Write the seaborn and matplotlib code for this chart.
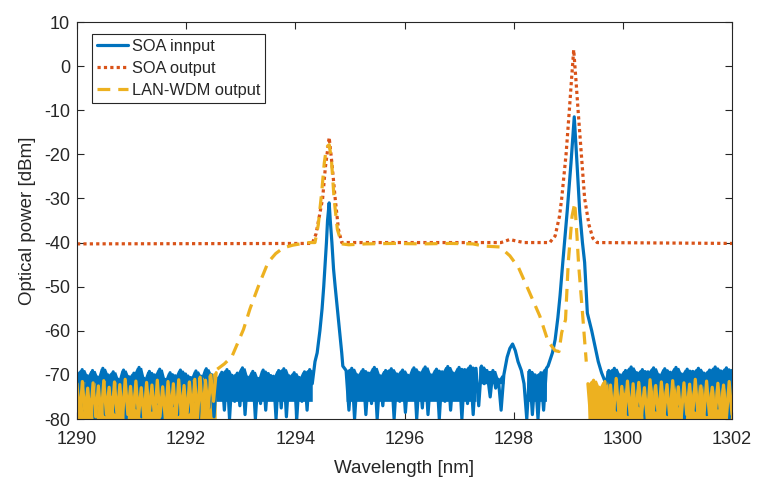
import numpy as np
import pandas as pd
import matplotlib
matplotlib.use('Agg')
import matplotlib.pyplot as plt
import seaborn as sns

# ---- data (wavelength in nm, power in dBm) ----
# SOA input (blue)
blue_noise_a = [-69.5, -76, -68.8, -78, -70.2, -75, -69, -80, -70.5, -77,
                -68.5, -79, -70, -74.5, -69.3, -78.5, -71, -76, -68.9, -80,
                -70.4, -75.5, -69.6, -77.5, -68.3, -79.5, -70.8, -74, -69.2, -78,
                -70, -76.5, -68.7, -80, -71, -75, -69.5, -77, -70.2, -79,
                -68.9, -74.5, -69.8, -78.5, -70.6, -76, -69.1, -80, -70.3, -75.5,
                -68.6, -77.5, -69.9, -79.5, -70.7, -74, -69.4, -78, -68.8, -80,
                -70.1, -76, -69.6, -77, -68.4, -79, -70.5, -75, -69.2, -80,
                -70.8, -76.5, -68.9, -78, -69.7, -74.5, -70.3, -80, -69, -77.5,
                -68.6, -79.5, -70.2, -75.5, -69.5, -80, -70.6, -76, -69.3, -78,
                -68.8, -72]
blue_peak1_wl = [1294.36, 1294.40, 1294.45, 1294.49, 1294.52, 1294.55, 1294.57, 1294.59,
                 1294.62, 1294.64, 1294.67, 1294.70, 1294.73, 1294.77, 1294.81, 1294.85, 1294.87]
blue_peak1 = [-67, -65, -60, -55, -50, -44, -40, -35, -31, -35, -40, -46, -50, -55, -60, -65, -68]
blue_noise_b = [-69, -78, -68.5, -80, -70, -75, -68.8, -79, -69.6, -76.5,
                -68.3, -80, -70.2, -77, -69, -74.5, -68.6, -80, -69.8, -76,
                -68.9, -78.5, -70.1, -75, -68.4, -80, -69.5, -77.5, -68.2, -79,
                -70, -75.5, -68.7, -80, -69.3, -76, -68.1, -78, -69.6, -74,
                -68.3, -80, -68.8, -76.5, -68, -79, -68.5]
blue_bump_wl = [1297.36, 1297.41, 1297.46, 1297.51, 1297.57, 1297.62, 1297.67, 1297.72, 1297.77,
                1297.82, 1297.88, 1297.93, 1297.98, 1298.03, 1298.08, 1298.14, 1298.19]
blue_bump = [-77, -68, -72, -69, -75, -69, -73, -71, -78, -70, -66, -64, -63, -64.5, -67, -69, -72]
blue_noise_d = [-80, -69, -79, -70, -80, -69.5, -78, -68.5]
blue_peak2_wl = [1298.63, 1298.71, 1298.76, 1298.81, 1298.85, 1298.90, 1298.98, 1299.05, 1299.11,
                 1299.16, 1299.21, 1299.26, 1299.30, 1299.35, 1299.43, 1299.49, 1299.55, 1299.61]
blue_peak2 = [-68, -65, -62, -57, -52, -44.5, -33, -22, -11.5, -22, -33, -40, -44.5, -56, -60,
              -63.5, -67, -69.5]
blue_noise_e = [-72, -69, -76, -68.5, -78, -70, -74, -69, -79, -68.2,
                -75, -69.5, -77, -68.8, -80, -69.3, -73.5, -68.4, -78, -70,
                -75, -68.6, -79, -69.4, -74, -68.3, -77, -69.8, -80, -68.7,
                -75.5, -69.2, -78, -68.5, -73, -69.6, -79, -68.9, -76, -68.2,
                -77.5, -69.1, -74.5, -68.4, -80, -69]

# SOA output (red)
red_wl = [1290, 1294.31, 1294.38, 1294.44, 1294.50, 1294.55, 1294.62, 1294.67, 1294.73, 1294.79,
          1294.85, 1295.80, 1297.77, 1297.93, 1298.03, 1298.19, 1298.66, 1298.76, 1298.84,
          1298.88, 1298.96, 1299.02, 1299.06, 1299.10, 1299.14, 1299.18, 1299.24, 1299.30,
          1299.38, 1299.45, 1299.53, 1302]
red_pw = [-40.3, -40.2, -38, -34, -30, -23, -16.2, -22, -30, -37, -40, -40, -40, -39.3, -39.6,
          -40, -40, -38.5, -34, -30, -20, -10, -3, 3.7, -3, -10, -20, -30, -36, -39, -40, -40.2]

# LAN-WDM output (yellow)
yel_noise_f = [-72, -80, -71.5, -79, -73, -80, -71.8, -79.5, -72.5, -80,
               -71.3, -79, -72.8, -80, -71.6, -79.5, -72.2, -80, -71, -79,
               -72.6, -80, -71.4, -79.5, -72.9, -80, -71.7, -79, -72.3, -80,
               -71.2, -79.5, -72.7, -80, -71.5, -79, -72, -80, -71.1, -79.5,
               -72.4, -80, -71.6, -79, -71, -80, -70.5, -79, -71.2, -78,
               -70, -76, -69.5]
yel_mid_wl = [1292.57, 1292.70, 1292.84, 1293.05, 1293.17, 1293.32, 1293.50, 1293.64, 1293.78,
              1293.95, 1294.09, 1294.26, 1294.36, 1294.42, 1294.48, 1294.53, 1294.57, 1294.62,
              1294.66, 1294.71, 1294.77, 1294.85, 1294.98, 1295.29, 1295.81, 1296.32, 1296.84,
              1297.25, 1297.46, 1297.75, 1297.93, 1298.09, 1298.29, 1298.48, 1298.63, 1298.76,
              1298.83, 1298.88, 1298.95, 1299.00, 1299.07, 1299.12, 1299.16, 1299.19, 1299.26,
              1299.33]
yel_mid = [-68.7, -67.5, -65.8, -59.7, -55, -50, -44.5, -42.5, -41.2,
           -40.6, -40.3, -40, -40, -36, -29, -22, -18.5, -17.8,
           -21, -30, -37, -40.3, -40.5, -40.3, -40.2, -40.3, -40.2,
           -40.3, -40.8, -41, -43, -45.7, -51.3, -56.7, -62.4, -64.5,
           -64.7, -60.4, -57.5, -44.5, -34, -31, -38.6, -45, -55.8,
           -67]
yel_noise_g = [-72, -80, -71.2, -79, -72.8, -80, -71.5, -79.5, -72.3, -80,
               -70.8, -79, -72.6, -80, -71.4, -79.5, -72, -80, -71.7, -79,
               -72.9, -80, -71.1, -79.5, -72.4, -80, -71.6, -79, -72.2, -80,
               -71.3, -79.5, -72.7, -80, -71.8, -79, -72.1, -80, -71, -79.5,
               -72.5, -80, -71.4, -79, -72.8, -80, -71.9, -79.5, -72.3, -80,
               -71.5, -79]

x_ticks = [1290, 1292, 1294, 1296, 1298, 1300, 1302]
y_ticks = [-80, -70, -60, -50, -40, -30, -20, -10, 0, 10]

BLUE, RED, YELLOW = '#0072BD', '#D95319', '#EDB120'

# noise stretches sampled on the analyser grid: (values, start nm, end nm, floor of solid band)
blue_noise = [(blue_noise_a, 1290.0, 1294.31, -76), (blue_noise_b, 1294.93, 1297.31, -76),
              (blue_noise_d, 1298.24, 1298.60, -76), (blue_noise_e, 1299.69, 1302.0, -80)]
yel_noise = [(yel_noise_f, 1290.0, 1292.55, -80), (yel_noise_g, 1299.36, 1302.0, -80)]


def noise_xy(vals, start, stop):
    return np.linspace(start, stop, len(vals)), np.asarray(vals, dtype=float)


def draw_band(ax, x, y, floor, color):
    # the analyser trace is so dense it reads as a solid band under its peaks
    top = pd.Series(np.asarray(y, dtype=float)).rolling(3, center=True, min_periods=1).max().values
    ax.fill_between(x, top, floor, color=color, lw=0)


sns.set_theme(style='ticks')
plt.rcParams['font.family'] = ['Liberation Sans', 'DejaVu Sans']
plt.rcParams['axes.unicode_minus'] = False
plt.rcParams['xtick.direction'] = 'in'
plt.rcParams['ytick.direction'] = 'in'
plt.rcParams['xtick.top'] = True
plt.rcParams['ytick.right'] = True

fig = plt.figure(figsize=(7.57, 4.82), dpi=100)
ax = fig.add_axes([77 / 757, 63 / 482, 655 / 757, 397 / 482])

# SOA input
parts = [noise_xy(*blue_noise[0][:3]), (blue_peak1_wl, blue_peak1), noise_xy(*blue_noise[1][:3]),
         (blue_bump_wl, blue_bump), noise_xy(*blue_noise[2][:3]), (blue_peak2_wl, blue_peak2),
         noise_xy(*blue_noise[3][:3])]
blue_wl = np.concatenate([p[0] for p in parts])
blue_pw = np.concatenate([p[1] for p in parts])
for vals, a, b, fl in blue_noise:
    x, y = noise_xy(vals, a, b)
    draw_band(ax, x, y, fl, BLUE)
draw_band(ax, blue_bump_wl[:10], blue_bump[:10], -72, BLUE)
sns.lineplot(x=blue_wl, y=blue_pw, ax=ax, color=BLUE, lw=2.3, estimator=None,
             sort=False, label='SOA innput')

# SOA output
sns.lineplot(x=red_wl, y=red_pw, ax=ax, color=RED, lw=2.3, estimator=None,
             sort=False, linestyle=(0, (1, 1)), label='SOA output')

# LAN-WDM output
sns.lineplot(x=yel_mid_wl, y=yel_mid, ax=ax, color=YELLOW, lw=2.3, estimator=None,
             sort=False, linestyle=(0, (4, 2.5)), label='LAN-WDM output')
for vals, a, b, fl in yel_noise:
    x, y = noise_xy(vals, a, b)
    draw_band(ax, x, y, fl, YELLOW)
    ax.plot(x, y, color=YELLOW, lw=2.3)

ax.set_xlim(1290, 1302)
ax.set_ylim(-80, 10)
ax.set_xticks(x_ticks)
ax.set_yticks(y_ticks)
ax.tick_params(labelsize=13, colors='#262626', length=5, width=0.8)
ax.tick_params(axis='x', pad=9)
ax.tick_params(axis='y', pad=5)
for s in ax.spines.values():
    s.set_color('#262626')
    s.set_linewidth(0.8)
ax.set_xlabel('Wavelength [nm]', fontsize=13.5, color='#262626', labelpad=8)
ax.set_ylabel('Optical power [dBm]', fontsize=13.5, color='#262626', labelpad=6)

leg = ax.legend(loc='upper left', bbox_to_anchor=(0.023, 0.97), borderaxespad=0,
                fontsize=11.8, handlelength=1.9, handletextpad=0.2, borderpad=0.32,
                labelspacing=0.42, fancybox=False, framealpha=1)
leg.get_frame().set_edgecolor('#262626')
leg.get_frame().set_linewidth(0.8)

fig.savefig('out.png', dpi=100)
